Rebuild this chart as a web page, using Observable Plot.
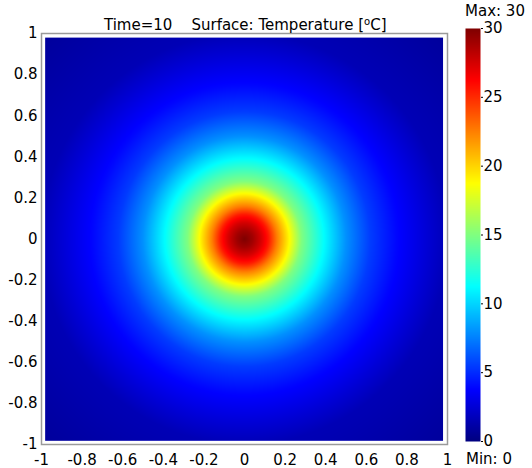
<!DOCTYPE html>
<html>
<head>
<meta charset="utf-8">
<script src="https://cdn.jsdelivr.net/npm/d3@7"></script>
<script src="https://cdn.jsdelivr.net/npm/@observablehq/plot@0.6"></script>
<style>
  html, body { margin: 0; padding: 0; background: #fff; }
  #wrap { position: relative; width: 532px; height: 468px; font-family: "DejaVu Sans", Verdana, sans-serif; font-size: 15px; color: #000; }
  #wrap svg { position: absolute; top: 0; }
  .lbl { position: absolute; white-space: nowrap; line-height: 1; }
  sup { font-size: 10px; vertical-align: 5px; line-height: 0; }
</style>
</head>
<body>
<div id="wrap"></div>
<script>
// Radial temperature profile (distance from centre -> °C)
const radii = [0, 0.04, 0.08, 0.12, 0.16, 0.21, 0.28, 0.39, 0.50, 0.62, 0.75, 0.90, 1.00, 1.42];
const temps = [30, 29, 27.5, 25.5, 22.5, 19.5, 15, 11.3, 8, 5.5, 3.9, 2.5, 1.6, 0.8];
const axisTicks = [-1, -0.8, -0.6, -0.4, -0.2, 0, 0.2, 0.4, 0.6, 0.8, 1];
const barTicks = [0, 5, 10, 15, 20, 25, 30];
const tMin = 0, tMax = 30;
const titleTime = "Time=10";
const titleSurface = "Surface: Temperature [";

// jet colour map stops
const jetDomain = [0, 0.125, 0.375, 0.625, 0.875, 1].map(t => tMin + t * (tMax - tMin));
const jetRange = ["#00007f", "#0000ff", "#00ffff", "#ffff00", "#ff0000", "#7f0000"];

const profile = d3.scaleLinear(radii, temps).clamp(true);
const fmt = d => String(+d.toFixed(1));
const font = {fontFamily: "DejaVu Sans, Verdana, sans-serif", fontSize: "15px", color: "#000", background: "transparent", overflow: "visible"};

const main = Plot.plot({
  width: 532, height: 468,
  marginLeft: 41, marginRight: 85, marginTop: 33, marginBottom: 24,
  style: font,
  x: {domain: [-1, 1]},
  y: {domain: [-1, 1]},
  color: {type: "linear", domain: jetDomain, range: jetRange, clamp: true},
  marks: [
    Plot.raster({
      fill: (x, y) => profile(Math.hypot(x, y)),
      x1: -0.982, x2: 0.978, y1: 0.98, y2: -0.982,
      interpolate: "none"
    }),
    Plot.frame({stroke: "#9a9a9a", strokeWidth: 1.5}),
    Plot.axisX({ticks: axisTicks, tickSize: 0, tickPadding: 10, tickFormat: fmt, fontSize: 15}),
    Plot.axisY({ticks: axisTicks, tickSize: 0, tickPadding: 4, tickFormat: fmt, fontSize: 15})
  ]
});
main.style.left = "0px";

const bar = Plot.plot({
  width: 70, height: 468,
  marginLeft: 3, marginRight: 52, marginTop: 28, marginBottom: 27,
  style: font,
  x: {domain: [0, 1], axis: null},
  y: {domain: [tMin, tMax]},
  color: {type: "linear", domain: jetDomain, range: jetRange, clamp: true},
  marks: [
    Plot.raster({fill: (x, y) => y, x1: 0, x2: 1, y1: tMin, y2: tMax, interpolate: "none"}),
    Plot.axisY({anchor: "right", ticks: barTicks, tickSize: 2, tickPadding: 1, fontSize: 15, tickFormat: d => String(d)})
  ]
});
bar.style.left = "462px";

const wrap = document.getElementById("wrap");
wrap.appendChild(main);
wrap.appendChild(bar);

const title = document.createElement("div");
title.className = "lbl";
title.style.left = "104px"; title.style.top = "18px";
title.innerHTML = `${titleTime}&nbsp;&nbsp;&nbsp; ${titleSurface}<sup>o</sup>C]`;
wrap.appendChild(title);

const mx = document.createElement("div");
mx.className = "lbl";
mx.style.left = "465px"; mx.style.top = "4px";
mx.textContent = `Max: ${tMax}`;
wrap.appendChild(mx);

const mn = document.createElement("div");
mn.className = "lbl";
mn.style.left = "466px"; mn.style.top = "452px";
mn.textContent = `Min: ${tMin}`;
wrap.appendChild(mn);
</script>
</body>
</html>
